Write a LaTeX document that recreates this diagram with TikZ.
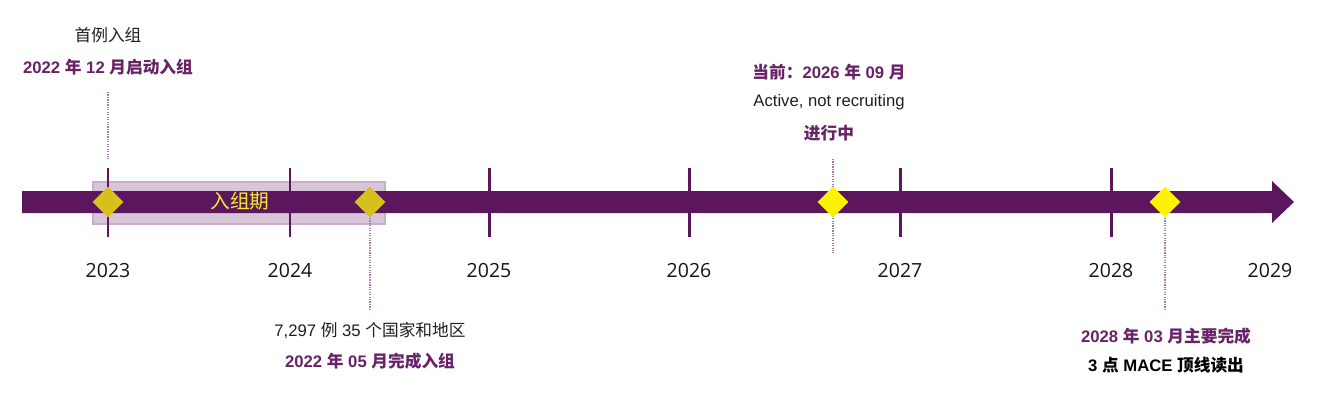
\documentclass[tikz,border=0pt]{standalone}
\usepackage{fontspec}
\setmainfont{Liberation Sans}
\newfontfamily\cjk{Noto Sans CJK SC}
\newfontfamily\yrfont{Open Sans}
\usetikzlibrary{arrows.meta,shapes.geometric,positioning}
\definecolor{plum}{HTML}{5C165E}
\definecolor{plumtxt}{HTML}{682367}
\definecolor{plumlt}{HTML}{D9C5D9}
\definecolor{plumedge}{HTML}{C9AEC9}
\definecolor{plumdot}{HTML}{A57BA5}
\definecolor{gold}{HTML}{D6C11C}
\definecolor{enrtxt}{HTML}{F2EE2E}
\newcommand{\zh}[1]{{\cjk #1}}
\tikzstyle{yr} = [font=\yrfont\fontsize{11.1}{13}\selectfont, text=black!92, inner sep=0pt]
\tikzstyle{tk} = [draw=plum, line width=1.7pt]
\tikzstyle{gd} = [diamond, fill=gold, inner sep=0pt, minimum width=0.62cm, minimum height=0.62cm]
\tikzstyle{yd} = [diamond, fill=yellow, inner sep=0pt, minimum width=0.62cm, minimum height=0.62cm]
\tikzstyle{dl} = [draw=plumdot, dash pattern=on 0.7pt off 0.7pt, line width=0.8pt]
\tikzstyle{lb} = [font=\fontsize{9.5}{11}\selectfont, text=black!88, inner sep=0pt]
\tikzstyle{hb} = [font=\bfseries\fontsize{9.5}{11}\selectfont, text=plumtxt, inner sep=0pt]
\tikzstyle{kb} = [font=\bfseries\fontsize{9.5}{11}\selectfont, text=black, inner sep=0pt]

\begin{document}
\begin{tikzpicture}[x=0.02cm, y=-0.02cm]
	\useasboundingbox (0,0) rectangle (1317,410);

	% enrolment period
	\fill[plumlt, draw=plumedge, line width=0.6pt] (93,182) rectangle (385,224);

	% main bar
	\fill[plum] (22,191) -- (1272,191) -- (1272,181) -- (1294,202)
		-- (1272,223) -- (1272,213) -- (22,213) -- cycle;

	\foreach \x/\y in {108/2023, 290/2024, 489/2025, 689/2026, 900/2027, 1111/2028} {
		\draw[tk] (\x,168) -- (\x,237);
		\node[yr] (y\y) at (\x,271) {\y};
	}
	\node[yr] (y2029) at (1270,271) {2029};

	\node[font=\cjk\fontsize{11.2}{13}\selectfont, text=enrtxt, inner sep=0pt] (enr) at (240,201) {入组期};

	% milestones
	\coordinate (m1top) at (108,92);
	\coordinate (m1bot) at (108,159);
	\coordinate (m2bot) at (370,310);
	\coordinate (m3top) at (833,159);
	\coordinate (m3bot) at (833,253);
	\coordinate (m4bot) at (1165,310);

	\draw[dl] (m1top) -- (m1bot);
	\draw[dl] (m3top) -- (m3bot);

	\node[gd] (d1) at (108,202) {};
	\node[gd] (d2) at (370,202) {};
	\node[yd] (d3) at (833,202) {};
	\node[yd] (d4) at (1165,202) {};

	\draw[dl] (d2.south) -- (m2bot);
	\draw[dl] (d4.south) -- (m4bot);

	% labels
	\node[lb] (a1) at (108,35) {\zh{首例入组}};
	\node[hb] (a2) at (108,67) {2022 \zh{年} 12 \zh{月启动入组}};

	\node[lb] (b1) at (370,330) {7,297 \zh{例} 35 \zh{个国家和地区}};
	\node[hb] (b2) at (370,361) {2022 \zh{年} 05 \zh{月完成入组}};

	\node[hb] (c1) at (829,72) {\zh{当前：}2026 \zh{年} 09 \zh{月}};
	\node[lb] (c2) at (829,102) {Active, not recruiting};
	\node[hb] (c3) at (829,133) {\zh{进行中}};

	\node[hb] (e1) at (1166,336) {2028 \zh{年} 03 \zh{月主要完成}};
	\node[kb] (e2) at (1166,365) {3 \zh{点} MACE \zh{顶线读出}};
\end{tikzpicture}
\end{document}
